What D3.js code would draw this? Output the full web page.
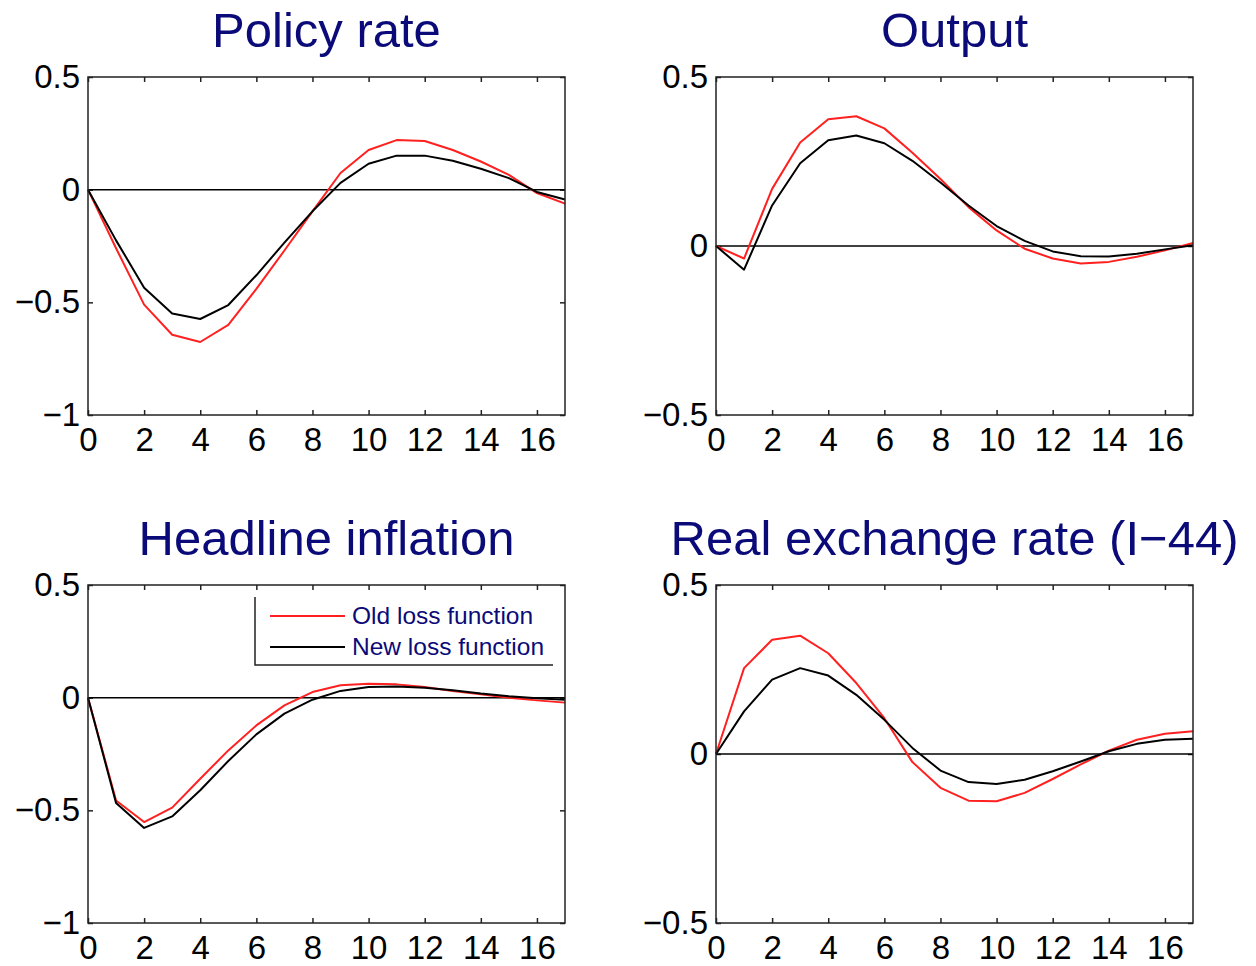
<!DOCTYPE html>
<html>
<head>
<meta charset="utf-8">
<script src="https://cdn.jsdelivr.net/npm/d3@7"></script>
<style>
  body { margin: 0; background: #fff; }
  text { font-family: "Liberation Sans", Arial, sans-serif; }
</style>
</head>
<body>
<div id="chart"></div>
<script>
// quarters after the shock
const periods = [0, 1, 2, 3, 4, 5, 6, 7, 8, 9, 10, 11, 12, 13, 14, 15, 16, 17];
const xTicks = [0, 2, 4, 6, 8, 10, 12, 14, 16];

const policyOld = [0, -0.26, -0.51, -0.644, -0.676, -0.60, -0.44, -0.27, -0.096, 0.074, 0.176, 0.22, 0.216, 0.176, 0.125, 0.066, -0.015, -0.062];
const policyNew = [0, -0.225, -0.435, -0.55, -0.574, -0.512, -0.38, -0.235, -0.096, 0.03, 0.115, 0.151, 0.151, 0.128, 0.093, 0.051, -0.01, -0.044];

const outputOld = [0, -0.037, 0.169, 0.306, 0.375, 0.384, 0.348, 0.276, 0.198, 0.115, 0.046, -0.008, -0.037, -0.052, -0.047, -0.032, -0.013, 0.009];
const outputNew = [0, -0.07, 0.12, 0.245, 0.313, 0.327, 0.304, 0.252, 0.188, 0.12, 0.059, 0.015, -0.016, -0.03, -0.031, -0.023, -0.01, 0.002];

const inflationOld = [0, -0.456, -0.552, -0.488, -0.36, -0.234, -0.123, -0.034, 0.025, 0.055, 0.062, 0.059, 0.047, 0.03, 0.015, 0, -0.012, -0.022];
const inflationNew = [0, -0.467, -0.578, -0.527, -0.411, -0.281, -0.163, -0.071, -0.009, 0.03, 0.047, 0.05, 0.044, 0.033, 0.018, 0.006, -0.003, -0.009];

const rerOld = [0, 0.254, 0.338, 0.35, 0.298, 0.21, 0.106, -0.024, -0.1, -0.138, -0.14, -0.115, -0.074, -0.031, 0.01, 0.042, 0.06, 0.067];
const rerNew = [0, 0.126, 0.22, 0.254, 0.232, 0.175, 0.101, 0.018, -0.049, -0.083, -0.089, -0.076, -0.051, -0.022, 0.008, 0.03, 0.042, 0.045];

const titles = ["Policy rate", "Output", "Headline inflation", "Real exchange rate (I\u221244)"];
const legendLabels = ["Old loss function", "New loss function"];

const width = 1256, height = 966;
const plotW = 477, plotH = 338;

const panels = [
    { title: titles[0], left: 88, top: 77, yDomain: [-1, 0.5], yTicks: [-1, -0.5, 0, 0.5], oldS: policyOld, newS: policyNew },
    { title: titles[1], left: 716, top: 77, yDomain: [-0.5, 0.5], yTicks: [-0.5, 0, 0.5], oldS: outputOld, newS: outputNew },
    { title: titles[2], left: 88, top: 585, yDomain: [-1, 0.5], yTicks: [-1, -0.5, 0, 0.5], oldS: inflationOld, newS: inflationNew, legend: true },
    { title: titles[3], left: 716, top: 585, yDomain: [-0.5, 0.5], yTicks: [-0.5, 0, 0.5], oldS: rerOld, newS: rerNew }
];

const oldColor = "#ff2020", newColor = "#000000", titleColor = "#0a0a78";
const fmt = d => d === 0 ? "0" : String(d).replace("-", "\u2212");

const svg = d3.select("#chart")
    .append("svg")
    .attr("width", width)
    .attr("height", height);

svg.append("rect").attr("width", width).attr("height", height).attr("fill", "#fff");

panels.forEach(p => {
    const g = svg.append("g").attr("transform", `translate(${p.left},${p.top})`);

    const x = d3.scaleLinear().domain([0, 17]).range([0, plotW]);
    const y = d3.scaleLinear().domain(p.yDomain).range([plotH, 0]);

    // title
    g.append("text")
        .attr("x", plotW / 2)
        .attr("y", -30)
        .attr("text-anchor", "middle")
        .style("font-size", "49px")
        .attr("fill", titleColor)
        .text(p.title);

    // axes, ticks inside like matlab
    const bottom = g.append("g")
        .attr("transform", `translate(0,${plotH})`)
        .call(d3.axisBottom(x).tickValues(xTicks).tickSize(-5).tickPadding(13).tickFormat(fmt));
    const top = g.append("g")
        .call(d3.axisTop(x).tickValues(xTicks).tickSize(-5).tickFormat(""));
    const left = g.append("g")
        .call(d3.axisLeft(y).tickValues(p.yTicks).tickSize(-5).tickPadding(8).tickFormat(fmt));
    const right = g.append("g")
        .attr("transform", `translate(${plotW},0)`)
        .call(d3.axisRight(y).tickValues(p.yTicks).tickSize(-5).tickFormat(""));

    [bottom, top, left, right].forEach(a => {
        a.select(".domain").remove();
        a.selectAll("line").attr("stroke", "#222").attr("stroke-width", 1.5);
        a.selectAll("text").style("font-size", "33px").attr("fill", "#000");
    });

    // zero line
    g.append("line")
        .attr("x1", 0).attr("x2", plotW)
        .attr("y1", y(0)).attr("y2", y(0))
        .attr("stroke", "#000")
        .attr("stroke-width", 1.5);

    const line = d3.line()
        .x((d, i) => x(periods[i]))
        .y(d => y(d));

    g.append("path")
        .datum(p.oldS)
        .attr("fill", "none")
        .attr("stroke", oldColor)
        .attr("stroke-width", 2)
        .attr("stroke-linejoin", "round")
        .attr("d", line);

    g.append("path")
        .datum(p.newS)
        .attr("fill", "none")
        .attr("stroke", newColor)
        .attr("stroke-width", 2)
        .attr("stroke-linejoin", "round")
        .attr("d", line);

    // axes box
    g.append("rect")
        .attr("width", plotW)
        .attr("height", plotH)
        .attr("fill", "none")
        .attr("stroke", "#222")
        .attr("stroke-width", 1.5);

    if (p.legend) {
        const lg = g.append("g").attr("transform", `translate(167, 12)`);
        lg.append("path")
            .attr("d", "M0,0V68H298")
            .attr("fill", "none")
            .attr("stroke", "#222")
            .attr("stroke-width", 1.5);
        [oldColor, newColor].forEach((c, i) => {
            lg.append("line")
                .attr("x1", 15).attr("x2", 90)
                .attr("y1", 19 + i * 31).attr("y2", 19 + i * 31)
                .attr("stroke", c)
                .attr("stroke-width", 2);
            lg.append("text")
                .attr("x", 97)
                .attr("y", 27 + i * 31)
                .style("font-size", "24.5px")
                .attr("fill", titleColor)
                .text(legendLabels[i]);
        });
    }
});
</script>
</body>
</html>
